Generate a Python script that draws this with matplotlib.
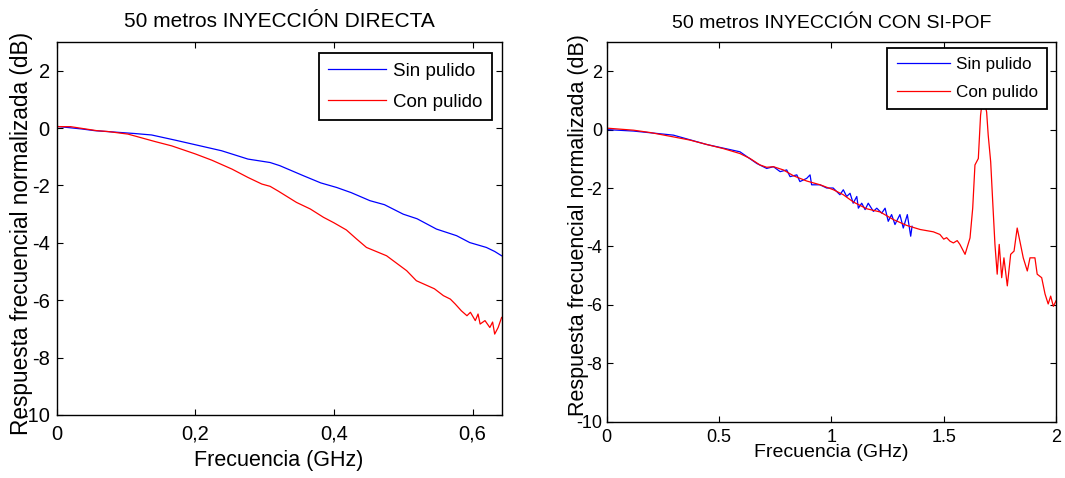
import matplotlib
matplotlib.use("Agg")
import matplotlib.pyplot as plt

plt.rcParams["font.family"] = ["Liberation Sans", "DejaVu Sans"]
plt.rcParams["axes.unicode_minus"] = False

# ---- data ----
# left panel: 50 m, direct injection
left_f_sin = [0, 0.036, 0.055, 0.113, 0.137, 0.171, 0.2, 0.238, 0.276, 0.308, 0.322, 0.356,
              0.381, 0.404, 0.425, 0.452, 0.473, 0.5, 0.52, 0.548, 0.577, 0.596, 0.62, 0.632, 0.642]
left_v_sin = [0.06, -0.03, -0.09, -0.19, -0.24, -0.42, -0.58, -0.79, -1.08, -1.2, -1.31, -1.66,
              -1.91, -2.07, -2.25, -2.53, -2.67, -3.0, -3.16, -3.52, -3.75, -3.99, -4.16, -4.3, -4.45]
left_f_con = [0, 0.02, 0.058, 0.074, 0.103, 0.142, 0.166, 0.2, 0.224, 0.253, 0.276, 0.296, 0.308,
              0.32, 0.346, 0.366, 0.385, 0.40, 0.418, 0.432, 0.447, 0.476, 0.505, 0.519, 0.545,
              0.558, 0.568, 0.575, 0.584, 0.592, 0.597, 0.604, 0.608, 0.611, 0.618, 0.625, 0.629,
              0.632, 0.637, 0.642]
left_v_con = [0.05, 0.05, -0.09, -0.12, -0.21, -0.47, -0.62, -0.9, -1.12, -1.43, -1.72, -1.95, -2.03,
              -2.2, -2.59, -2.82, -3.11, -3.3, -3.55, -3.85, -4.16, -4.45, -4.97, -5.32, -5.6,
              -5.84, -5.96, -6.13, -6.37, -6.54, -6.42, -6.71, -6.48, -6.83, -6.71, -6.95, -6.76,
              -7.18, -6.95, -6.6]

# right panel: 50 m, injection with SI-POF
right_f_sin = [0, 0.119, 0.297, 0.445, 0.593, 0.668, 0.712, 0.742, 0.772, 0.801, 0.816, 0.846, 0.86,
               0.89, 0.905, 0.912, 0.949, 0.979, 1.008, 1.038, 1.053, 1.068, 1.083, 1.097, 1.113,
               1.12, 1.135, 1.15, 1.164, 1.187, 1.202, 1.224, 1.239, 1.253, 1.268, 1.283, 1.305,
               1.32, 1.338, 1.353, 1.359]
right_v_sin = [0.0, -0.05, -0.19, -0.51, -0.76, -1.16, -1.33, -1.27, -1.44, -1.38, -1.61, -1.55, -1.78,
               -1.67, -1.55, -1.89, -1.89, -2.0, -2.0, -2.23, -2.06, -2.29, -2.18, -2.52, -2.29,
               -2.69, -2.52, -2.74, -2.52, -2.8, -2.69, -2.86, -2.69, -3.14, -2.91, -3.25, -2.91,
               -3.37, -2.91, -3.65, -3.31]
right_f_con = [0, 0.119, 0.193, 0.297, 0.371, 0.445, 0.519, 0.593, 0.638, 0.682, 0.712, 0.742, 0.786,
               0.831, 0.89, 0.95, 1.009, 1.053, 1.098, 1.157, 1.217, 1.276, 1.335, 1.395, 1.454,
               1.483, 1.5, 1.513, 1.528, 1.543, 1.56, 1.572, 1.595, 1.617, 1.629, 1.639, 1.654,
               1.664, 1.675, 1.691, 1.698, 1.709, 1.718, 1.728, 1.738, 1.747, 1.758, 1.768, 1.783,
               1.798, 1.813, 1.827, 1.839, 1.854, 1.872, 1.884, 1.906, 1.916, 1.936, 1.951, 1.965,
               1.976, 1.988, 2.0]
right_v_con = [0.05, -0.02, -0.1, -0.25, -0.36, -0.51, -0.65, -0.82, -0.99, -1.21, -1.29, -1.27, -1.38,
               -1.58, -1.76, -1.89, -2.06, -2.23, -2.48, -2.71, -2.82, -3.08, -3.28, -3.42, -3.5,
               -3.59, -3.75, -3.7, -3.82, -3.88, -3.8, -3.93, -4.27, -3.71, -2.69, -1.21, -0.99,
               0.49, 1.2, 0.6, -0.19, -1.1, -2.46, -3.93, -4.95, -3.93, -5.07, -4.39, -5.35,
               -4.27, -4.16, -3.37, -3.82, -4.39, -4.84, -4.39, -4.39, -4.95, -5.07, -5.63, -5.97,
               -5.7, -6.05, -5.86]

y_ticks = [-10, -8, -6, -4, -2, 0, 2]
left_xticks = [0, 0.2, 0.4, 0.6]
left_xticklabels = ["0", "0,2", "0,4", "0,6"]
right_xticks = [0, 0.5, 1, 1.5, 2]
right_xticklabels = ["0", "0.5", "1", "1.5", "2"]
series_labels = ["Sin pulido", "Con pulido"]

fig = plt.figure(figsize=(10.65, 4.78), dpi=100)
ax1 = fig.add_axes([0.0532, 0.1318, 0.4178, 0.7803])
ax2 = fig.add_axes([0.5697, 0.1178, 0.4219, 0.7944])


def style(ax, tick_fs, pad_x, pad_y):
    ax.set_ylim(-10, 3)
    ax.set_yticks(y_ticks)
    ax.tick_params(direction="in", top=True, right=True, length=4, width=0.8,
                   labelsize=tick_fs, colors="black")
    ax.tick_params(axis="x", pad=pad_x)
    ax.tick_params(axis="y", pad=pad_y)
    for s in ax.spines.values():
        s.set_linewidth(1.0)
        s.set_color("black")


# left
ax1.plot(left_f_sin, left_v_sin, color="#0000FF", lw=0.9, label=series_labels[0])
ax1.plot(left_f_con, left_v_con, color="#FF0000", lw=0.9, label=series_labels[1])
ax1.set_xlim(0, 0.642)
ax1.set_xticks(left_xticks)
ax1.set_xticklabels(left_xticklabels)
style(ax1, 14.5, 7, 5)
ax1.set_title("50 metros INYECCIÓN DIRECTA", fontsize=15, pad=11)
ax1.set_xlabel("Frecuencia (GHz)", fontsize=15.5)
ax1.xaxis.set_label_coords(0.5, -0.095)
ax1.set_ylabel("Respuesta frecuencial normalizada (dB)", fontsize=16.3)
ax1.yaxis.set_label_coords(-0.053, 0.487)
leg1 = ax1.legend(loc="upper right", bbox_to_anchor=(1 - 10 / 445, 1 - 11 / 373),
                  borderaxespad=0, fontsize=13.5, fancybox=False, edgecolor="black",
                  framealpha=1, handlelength=3.1, handletextpad=0.35, labelspacing=0.75,
                  borderpad=0.5)
leg1.get_frame().set_linewidth(1.3)

# right
ax2.plot(right_f_sin, right_v_sin, color="#0000FF", lw=0.9, label=series_labels[0])
ax2.plot(right_f_con, right_v_con, color="#FF0000", lw=0.9, label=series_labels[1])
ax2.set_xlim(0, 2)
ax2.set_xticks(right_xticks)
ax2.set_xticklabels(right_xticklabels)
style(ax2, 13, 5, 3.4)
ax2.set_title("50 metros INYECCIÓN CON SI-POF", fontsize=14, pad=10)
ax2.set_xlabel("Frecuencia (GHz)", fontsize=14)
ax2.xaxis.set_label_coords(0.5, -0.06)
ax2.set_ylabel("Respuesta frecuencial normalizada (dB)", fontsize=15.5)
ax2.yaxis.set_label_coords(-0.04, 0.517)
leg2 = ax2.legend(loc="upper right", bbox_to_anchor=(1 - 9 / 449, 1 - 6 / 380),
                  borderaxespad=0, fontsize=12.3, fancybox=False, edgecolor="black",
                  framealpha=1, handlelength=3.1, handletextpad=0.35, labelspacing=0.72,
                  borderpad=0.55)
leg2.get_frame().set_linewidth(1.3)

fig.savefig("out.png", dpi=100)
